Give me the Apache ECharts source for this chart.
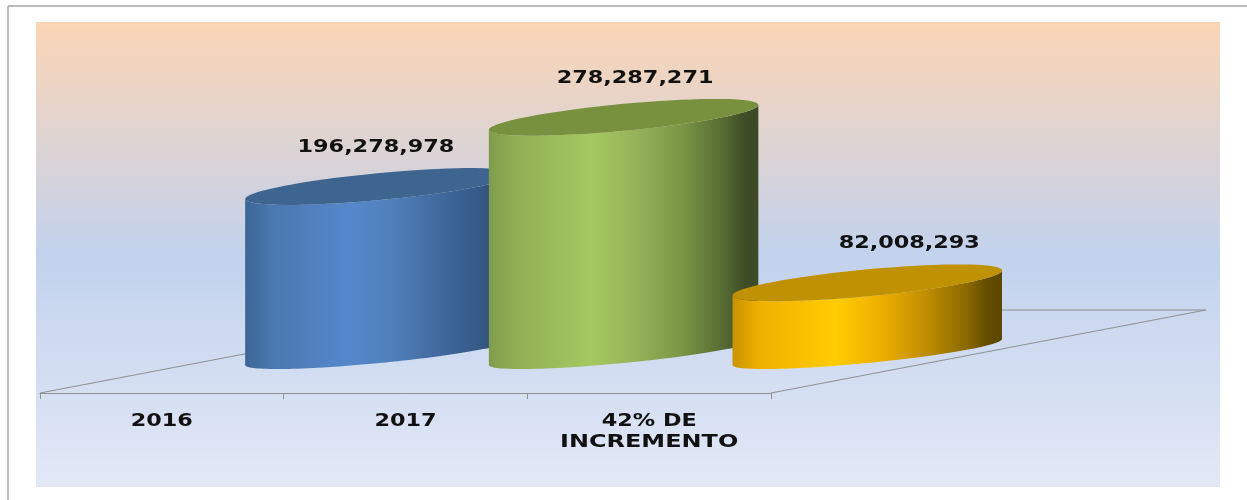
<!DOCTYPE html>
<html>
<head>
<meta charset="utf-8">
<style>html,body{margin:0;padding:0;background:#fff}#c{width:1247px;height:500px}</style>
<script src="https://cdn.jsdelivr.net/npm/echarts@6/dist/echarts.min.js"></script>
</head>
<body>
<div id="c"></div>
<script>
const categories = ['2016', '2017', '42% DE\nINCREMENTO'];
const values = [196278978, 278287271, 82008293];
const valueLabels = ['196,278,978', '278,287,271', '82,008,293'];

const bodyStops = [0, 0.1, 0.38, 0.55, 0.72, 0.87, 0.95, 1];
const bodyColors = [
  ['#3d6596', '#4a78b0', '#5587cc', '#4f80bb', '#41699d', '#365a88', '#2c4669', '#2a4364'],
  ['#7f9c4c', '#90af53', '#a5c862', '#95b259', '#7a9545', '#566b33', '#3e4d26', '#3c4a25'],
  ['#c79400', '#f0b000', '#ffcc00', '#edb000', '#bf8d00', '#8a6900', '#624a00', '#5e4700']
];
const capColors = ['#3e6490', '#78913f', '#c09100'];
const labelShiftX = [-4, 11.5, 42];

const FONT = 'bold 18px "DejaVu Sans"';
const STRETCH = 1.24;
const STRETCH_LONG = 1.33;

function ellipse(cx, cy, a, skew, b, from, to) {
  const pts = [];
  const n = 72;
  for (let k = 0; k <= n; k++) {
    const t = from + (to - from) * k / n;
    const c = Math.cos(t);
    pts.push([cx + a * c, cy + b * Math.sin(t) - skew * c]);
  }
  return pts;
}

function renderFloor(params, api) {
  const band = api.size([1, 0])[0];
  const p0 = api.coord([0, 0]);
  const p2 = api.coord([2, 0]);
  const xL = p0[0] - band / 2, xR = p2[0] + band / 2, y = p0[1];
  const depthX = band * 1.785, depthY = 83;
  const line = (x1, y1, x2, y2) => ({
    type: 'line',
    shape: { x1, y1, x2, y2 },
    style: { stroke: '#8f8f8f', lineWidth: 1 }
  });
  return {
    type: 'group',
    children: [
      line(xL, y, xL + depthX, y - depthY),
      line(xR, y, xR + depthX, y - depthY),
      line(xL + depthX, y - depthY, xR + depthX, y - depthY)
    ]
  };
}

function renderCylinder(params, api) {
  const i = api.value(0);
  const base = api.coord([i, 0]);
  const top = api.coord([i, api.value(1)]);
  const band = api.size([1, 0])[0];
  const a = band * 0.553;
  const cx = base[0] + band * 0.895;
  const baseY = base[1] - 41;
  const topY = top[1] - 41;
  const lowerBase = ellipse(cx, baseY, a, 13, 11, Math.PI, 0);
  const lowerTop = ellipse(cx, topY, a, 12.5, 13.5, 0, Math.PI);
  const bodyPoints = lowerBase.concat(lowerTop);
  const capPoints = ellipse(cx, topY, a, 12.5, 13.5, 0, Math.PI * 2);
  const catLines = categories[i].split('\n').map((txt, k) => ({
    type: 'text',
    x: base[0],
    y: base[1] + 28.5 + k * 20.5,
    scaleX: txt.length > 6 ? STRETCH_LONG : STRETCH,
    style: {
      text: txt, font: FONT, fill: '#111',
      textAlign: 'center', textVerticalAlign: 'middle'
    }
  }));
  return {
    type: 'group',
    children: [
      {
        type: 'polygon',
        shape: { points: bodyPoints },
        style: {
          fill: new echarts.graphic.LinearGradient(0, 0, 1, 0,
            bodyStops.map((s, k) => ({ offset: s, color: bodyColors[i][k] })))
        }
      },
      {
        type: 'polygon',
        shape: { points: capPoints },
        style: { fill: capColors[i] }
      },
      {
        type: 'text',
        x: cx + labelShiftX[i],
        y: topY - 39.5,
        scaleX: STRETCH,
        style: {
          text: valueLabels[i], font: FONT, fill: '#111',
          textAlign: 'center', textVerticalAlign: 'middle'
        }
      }
    ].concat(catLines)
  };
}

const chart = echarts.init(document.getElementById('c'), null, { renderer: 'canvas' });
chart.setOption({
  animation: false,
  backgroundColor: '#fff',
  graphic: [
    {
      type: 'rect', silent: true, z: -10,
      shape: { x: 36, y: 22, width: 1184, height: 465 },
      style: {
        fill: new echarts.graphic.LinearGradient(0, 0, 0, 1, [
          { offset: 0, color: '#fbd5b5' },
          { offset: 0.5, color: '#c2d2ed' },
          { offset: 1, color: '#e2e8f6' }
        ])
      }
    },
    { type: 'line', silent: true, z: -9, shape: { x1: 8, y1: 6, x2: 1247, y2: 6 }, style: { stroke: '#a6a6a6', lineWidth: 1.5 } },
    { type: 'line', silent: true, z: -9, shape: { x1: 8, y1: 6, x2: 8, y2: 500 }, style: { stroke: '#a6a6a6', lineWidth: 1.5 } }
  ],
  grid: { left: 40, top: 22, width: 731, height: 371, containLabel: false },
  xAxis: {
    type: 'category',
    data: categories,
    boundaryGap: true,
    axisLine: { show: true, lineStyle: { color: '#8f8f8f', width: 1 } },
    axisTick: { show: true, length: 6, alignWithLabel: false, lineStyle: { color: '#8f8f8f' } },
    axisLabel: { show: false },
    splitLine: { show: false }
  },
  yAxis: { type: 'value', min: 0, max: 440000000, show: false, splitLine: { show: false } },
  series: [
    {
      type: 'custom', z: 1, silent: true, clip: false,
      renderItem: renderFloor,
      data: [[0, 0]]
    },
    {
      type: 'custom', z: 3, silent: true, clip: false,
      renderItem: renderCylinder,
      encode: { x: 0, y: 1 },
      data: categories.map((c, i) => [i, values[i]])
    }
  ]
});
</script>
</body>
</html>
